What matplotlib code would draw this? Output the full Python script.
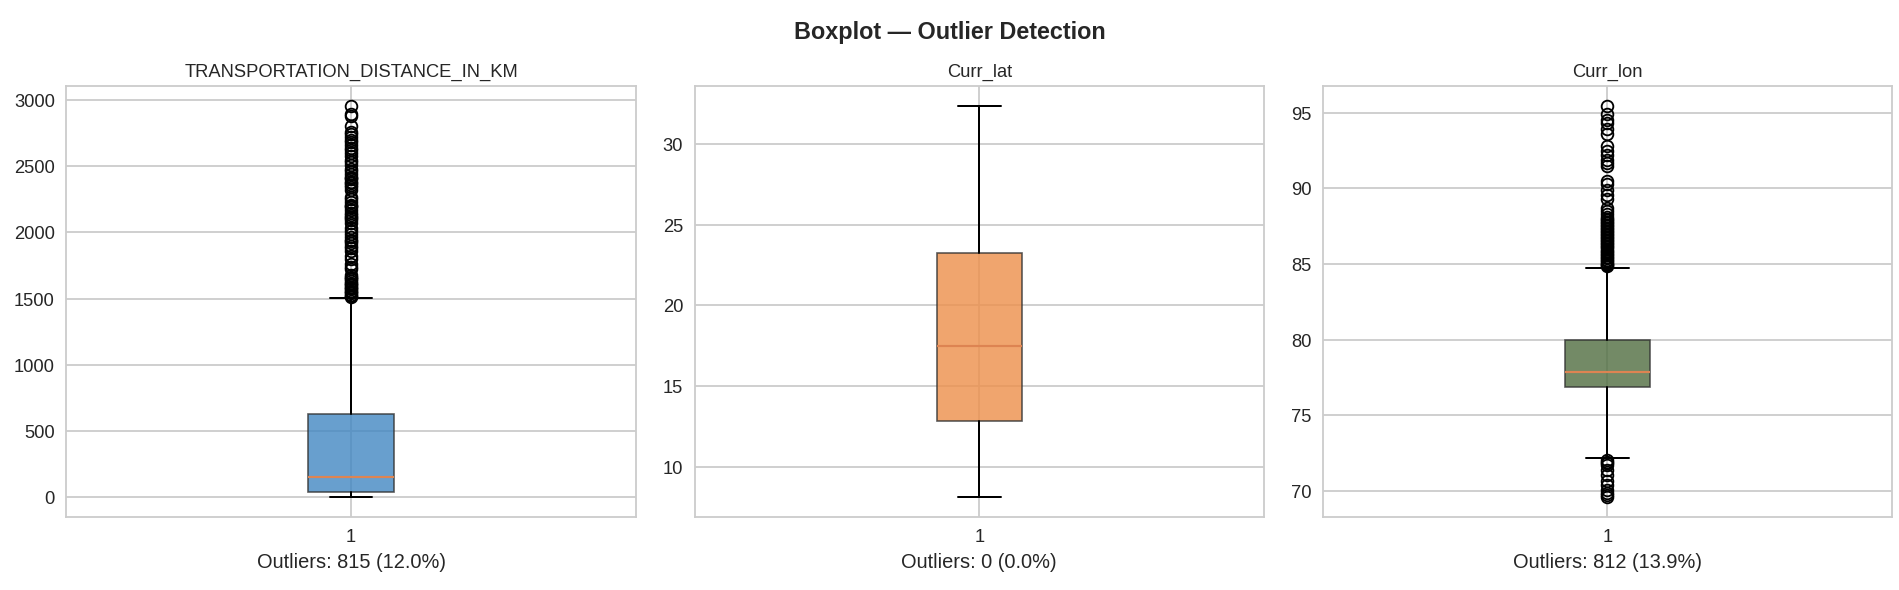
import matplotlib
matplotlib.use('Agg')
import matplotlib.pyplot as plt
import seaborn as sns

sns.set_style('whitegrid')
plt.rcParams['font.family'] = ['Liberation Sans', 'DejaVu Sans']

columns = ['TRANSPORTATION_DISTANCE_IN_KM', 'Curr_lat', 'Curr_lon']
box_colors = ['#4287C2', '#ED8F4A', '#506D40']
outlier_counts = [815, 0, 812]
outlier_pcts = [12.0, 0.0, 13.9]

# box stats: whislo, q1, median, q3, whishi
whislo = [0, 8.13, 72.2]
q1 = [40, 12.84, 76.9]
median = [152, 17.47, 77.85]
q3 = [628, 23.27, 80.0]
whishi = [1505, 32.35, 84.76]

dist_fliers = [1512, 1520, 1530, 1540, 1550, 1560, 1570, 1580, 1590, 1600, 1610, 1620,
               1630, 1645, 1655, 1665, 1680, 1720, 1740, 1760, 1800, 1820, 1860, 1880,
               1900, 1920, 1935, 1945, 1965, 1985, 2010, 2030, 2070, 2090, 2110, 2120,
               2130, 2150, 2170, 2190, 2200, 2210, 2230, 2250, 2270, 2320, 2340, 2360,
               2370, 2380, 2400, 2410, 2420, 2440, 2460, 2480, 2510, 2530, 2550, 2575,
               2600, 2620, 2640, 2660, 2680, 2700, 2720, 2740, 2760, 2800, 2880, 2895,
               2955]
lat_fliers = []
lon_fliers = [84.85, 84.92, 85.0, 85.1, 85.2, 85.3, 85.4, 85.5, 85.6, 85.7, 85.8,
              85.9, 86.0, 86.1, 86.2, 86.3, 86.4, 86.5, 86.6, 86.7, 86.8, 86.9,
              87.0, 87.1, 87.2, 87.3, 87.4, 87.5, 87.6, 87.7, 87.8, 87.9, 88.0,
              88.1, 88.3, 88.5, 88.7, 89.3, 89.6, 89.9, 90.3, 90.5, 91.5, 91.7, 91.9,
              92.2, 92.5, 92.8, 93.6, 93.9, 94.3, 94.5, 94.9, 95.45,
              72.05, 71.95, 71.85, 71.7, 71.4, 71.1, 70.7, 70.4, 70.1, 69.9, 69.75, 69.6]
fliers = [dist_fliers, lat_fliers, lon_fliers]

fig, axes = plt.subplots(1, 3, figsize=(15.83, 4.92), dpi=120)
fig.subplots_adjust(left=0.035, right=0.996, top=0.853, bottom=0.124, wspace=0.104)

for i, ax in enumerate(axes):
    stats = [{'whislo': whislo[i], 'q1': q1[i], 'med': median[i], 'q3': q3[i],
              'whishi': whishi[i], 'fliers': fliers[i]}]
    bp = ax.bxp(stats, patch_artist=True, showfliers=True,
                boxprops=dict(edgecolor='#333333', linewidth=1.0),
                medianprops=dict(color='#DD8452', linewidth=1.3),
                whiskerprops=dict(color='black', linewidth=1.2),
                capprops=dict(color='black', linewidth=1.2),
                flierprops=dict(marker='o', markerfacecolor='none',
                                markeredgecolor='black', markersize=7,
                                markeredgewidth=1.1))
    for patch in bp['boxes']:
        patch.set_facecolor(box_colors[i])
        patch.set_alpha(0.8)
    ax.set_title(columns[i], fontsize=11)
    ax.set_xlabel(f'Outliers: {outlier_counts[i]} ({outlier_pcts[i]:.1f}%)', fontsize=12)
    ax.tick_params(labelsize=11)
    ax.grid(linewidth=1.1)
    for s in ax.spines.values():
        s.set_color('#cccccc')
        s.set_linewidth(1.1)

fig.suptitle('Boxplot — Outlier Detection', fontsize=14, fontweight='bold', y=0.965)
plt.savefig('out.png', dpi=120)
